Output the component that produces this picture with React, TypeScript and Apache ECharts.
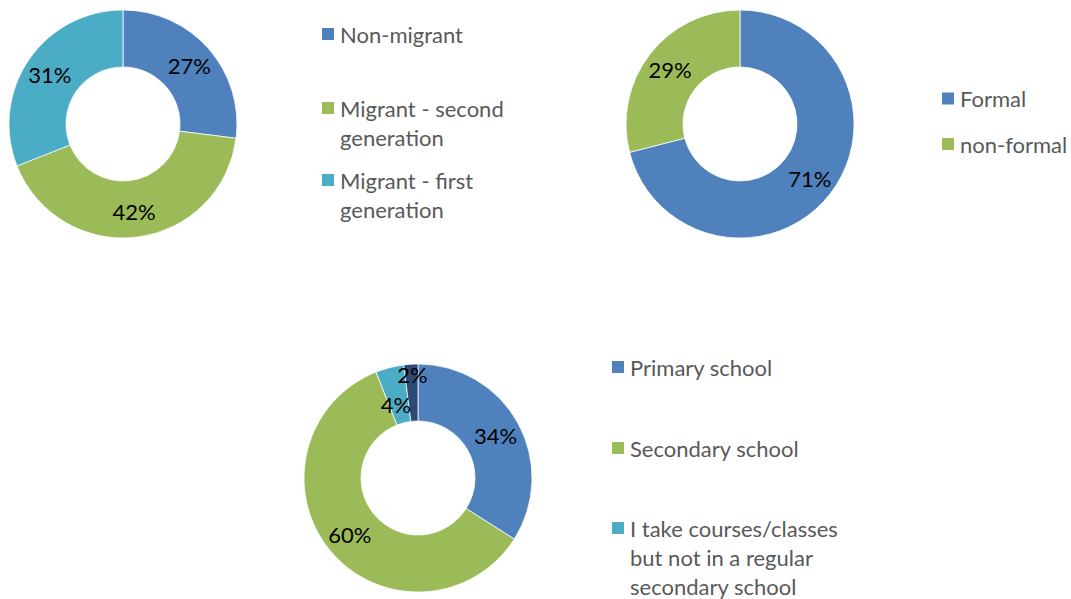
import React, { useEffect, useRef } from "react";
import * as echarts from "echarts";

// Chart 1: migration background
const migrantNames = ["Non-migrant", "Migrant - second generation", "Migrant - first generation"];
const migrantLegendText = ["Non-migrant", "Migrant - second\ngeneration", "Migrant - first\ngeneration"];
const migrantValues = [27, 42, 31];

// Chart 2: type of education
const eduTypeNames = ["Formal", "non-formal"];
const eduTypeLegendText = ["Formal", "non-formal"];
const eduTypeValues = [71, 29];

// Chart 3: school level
const schoolNames = [
  "Primary school",
  "Secondary school",
  "I take courses/classes but not in a regular secondary school",
  "Other",
];
const schoolLegendText = [
  "Primary school",
  "Secondary school",
  "I take courses/classes\nbut not in a regular\nsecondary school",
];
const schoolValues = [34, 60, 4, 2];

const BLUE = "#4F81BD";
const GREEN = "#9BBB59";
const CYAN = "#4BACC6";
const NAVY = "#2C4A74";

const FONT = "Lato, 'Open Sans', sans-serif";
const FS = 22;
const LH = 29;

export default function App() {
  const ref = useRef<HTMLDivElement>(null);
  useEffect(() => {
    if (!ref.current) return;
    const chart = echarts.init(ref.current, null, { renderer: "svg" });

    const labelCfg = {
      show: true,
      position: "inside",
      formatter: "{c}%",
      color: "#000",
      fontSize: FS,
      fontFamily: FONT,
    };

    const makeSeries = (
      names: string[],
      values: number[],
      colors: string[],
      center: number[],
      extra: any = {}
    ) => ({
      type: "pie",
      center,
      radius: [57, 114],
      startAngle: 90,
      clockwise: true,
      avoidLabelOverlap: false,
      label: labelCfg,
      labelLine: { show: false },
      emphasis: { disabled: true },
      itemStyle: { borderColor: "#fff", borderWidth: 0.75 },
      data: names.map((n, i) => ({ name: n, value: values[i], itemStyle: { color: colors[i] } })),
      ...extra,
    });

    // The icon is centred on the text block; blank leading lines keep it level with the first line.
    const legendItem = (name: string, text: string, left: number, iconCenter: number) => {
      const n = text.split("\n").length;
      const shown = "\n".repeat(n - 1) + text;
      const total = 2 * n - 1;
      return {
        orient: "vertical",
        left,
        top: iconCenter - 2 - (total * LH) / 2,
        padding: 0,
        icon: "rect",
        itemWidth: 14,
        itemHeight: 14,
        selectedMode: false,
        data: [name],
        formatter: () => shown,
        textStyle: {
          color: "#595959",
          fontSize: FS,
          fontFamily: FONT,
          lineHeight: LH,
        },
      };
    };

    const legends = [
      legendItem(migrantNames[0], migrantLegendText[0], 320, 36),
      legendItem(migrantNames[1], migrantLegendText[1], 320, 110),
      legendItem(migrantNames[2], migrantLegendText[2], 320, 182),
      legendItem(eduTypeNames[0], eduTypeLegendText[0], 940, 100.5),
      legendItem(eduTypeNames[1], eduTypeLegendText[1], 940, 146),
      legendItem(schoolNames[0], schoolLegendText[0], 610, 369),
      legendItem(schoolNames[1], schoolLegendText[1], 610, 450),
      legendItem(schoolNames[2], schoolLegendText[2], 610, 530),
    ];

    chart.setOption({
      animation: false,
      backgroundColor: "#fff",
      legend: legends,
      series: [
        makeSeries(migrantNames, migrantValues, [BLUE, GREEN, CYAN], [123, 124]),
        makeSeries(eduTypeNames, eduTypeValues, [BLUE, GREEN], [740, 124]),
        makeSeries(schoolNames, schoolValues, [BLUE, GREEN, CYAN, NAVY], [418, 478], {
          labelLayout: (p: any) =>
            p.dataIndex === 3 ? { dy: -15 } : p.dataIndex === 2 ? { dy: 12 } : {},
        }),
      ],
    });
    return () => chart.dispose();
  }, []);
  return (
    <div
      ref={ref}
      style={{ position: "absolute", left: 0, top: 0, width: 1071, height: 599 }}
    />
  );
}
